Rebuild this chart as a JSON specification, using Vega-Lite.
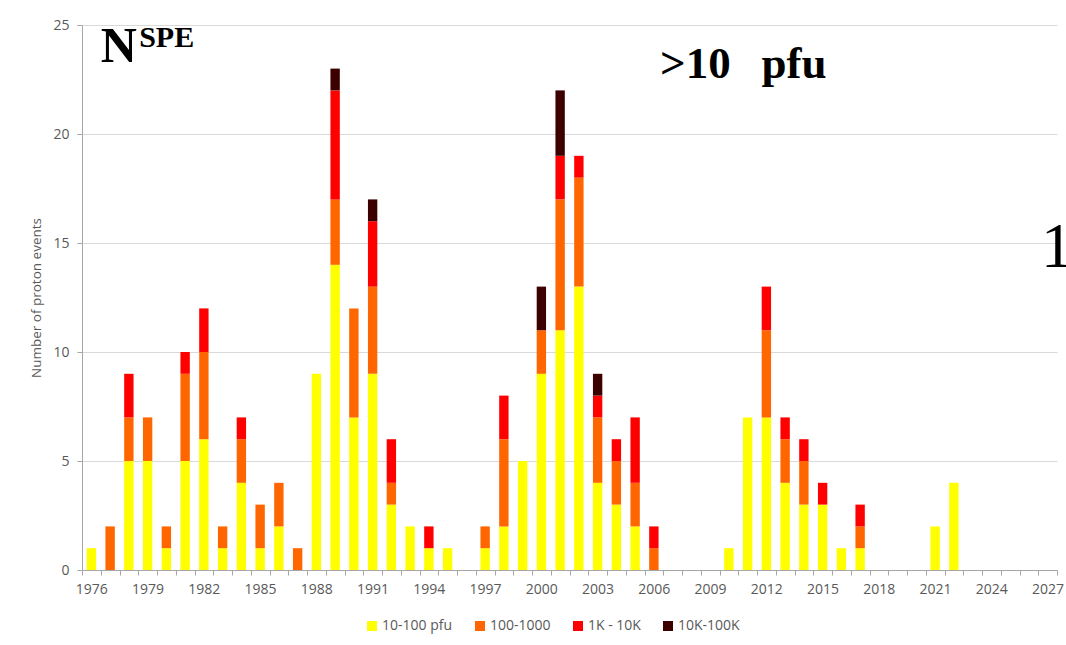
{
  "$schema": "https://vega.github.io/schema/vega-lite/v6.json",
  "autosize": "none",
  "width": 975,
  "height": 545,
  "padding": {"left": 82, "top": 25, "right": 9, "bottom": 75},
  "background": "white",
  "config": {
    "view": {"stroke": null},
    "axis": {
      "labelFont": "Open Sans", "labelFontSize": 14, "labelColor": "#595959",
      "domainColor": "#a6a6a6", "tickColor": "#a6a6a6", "gridColor": "#d9d9d9",
      "titleFont": "Open Sans", "titleFontSize": 13.5, "titleFontWeight": "normal", "titleColor": "#595959"
    },
    "legend": {
      "labelFont": "Open Sans", "labelFontSize": 14, "labelColor": "#595959"
    }
  },
  "datasets": {
    "classes": [
      {"cls": "10-100 pfu", "rank": 1},
      {"cls": "100-1000", "rank": 2},
      {"cls": "1K - 10K", "rank": 3},
      {"cls": "10K-100K", "rank": 4}
    ]
  },
  "layer": [
    {
      "data": {
        "values": [
          {"year": 1976, "cls": "10-100 pfu", "n": 1},
          {"year": 1977, "cls": "100-1000", "n": 2},
          {"year": 1978, "cls": "10-100 pfu", "n": 5}, {"year": 1978, "cls": "100-1000", "n": 2}, {"year": 1978, "cls": "1K - 10K", "n": 2},
          {"year": 1979, "cls": "10-100 pfu", "n": 5}, {"year": 1979, "cls": "100-1000", "n": 2},
          {"year": 1980, "cls": "10-100 pfu", "n": 1}, {"year": 1980, "cls": "100-1000", "n": 1},
          {"year": 1981, "cls": "10-100 pfu", "n": 5}, {"year": 1981, "cls": "100-1000", "n": 4}, {"year": 1981, "cls": "1K - 10K", "n": 1},
          {"year": 1982, "cls": "10-100 pfu", "n": 6}, {"year": 1982, "cls": "100-1000", "n": 4}, {"year": 1982, "cls": "1K - 10K", "n": 2},
          {"year": 1983, "cls": "10-100 pfu", "n": 1}, {"year": 1983, "cls": "100-1000", "n": 1},
          {"year": 1984, "cls": "10-100 pfu", "n": 4}, {"year": 1984, "cls": "100-1000", "n": 2}, {"year": 1984, "cls": "1K - 10K", "n": 1},
          {"year": 1985, "cls": "10-100 pfu", "n": 1}, {"year": 1985, "cls": "100-1000", "n": 2},
          {"year": 1986, "cls": "10-100 pfu", "n": 2}, {"year": 1986, "cls": "100-1000", "n": 2},
          {"year": 1987, "cls": "100-1000", "n": 1},
          {"year": 1988, "cls": "10-100 pfu", "n": 9},
          {"year": 1989, "cls": "10-100 pfu", "n": 14}, {"year": 1989, "cls": "100-1000", "n": 3}, {"year": 1989, "cls": "1K - 10K", "n": 5}, {"year": 1989, "cls": "10K-100K", "n": 1},
          {"year": 1990, "cls": "10-100 pfu", "n": 7}, {"year": 1990, "cls": "100-1000", "n": 5},
          {"year": 1991, "cls": "10-100 pfu", "n": 9}, {"year": 1991, "cls": "100-1000", "n": 4}, {"year": 1991, "cls": "1K - 10K", "n": 3}, {"year": 1991, "cls": "10K-100K", "n": 1},
          {"year": 1992, "cls": "10-100 pfu", "n": 3}, {"year": 1992, "cls": "100-1000", "n": 1}, {"year": 1992, "cls": "1K - 10K", "n": 2},
          {"year": 1993, "cls": "10-100 pfu", "n": 2},
          {"year": 1994, "cls": "10-100 pfu", "n": 1}, {"year": 1994, "cls": "1K - 10K", "n": 1},
          {"year": 1995, "cls": "10-100 pfu", "n": 1},
          {"year": 1997, "cls": "10-100 pfu", "n": 1}, {"year": 1997, "cls": "100-1000", "n": 1},
          {"year": 1998, "cls": "10-100 pfu", "n": 2}, {"year": 1998, "cls": "100-1000", "n": 4}, {"year": 1998, "cls": "1K - 10K", "n": 2},
          {"year": 1999, "cls": "10-100 pfu", "n": 5},
          {"year": 2000, "cls": "10-100 pfu", "n": 9}, {"year": 2000, "cls": "100-1000", "n": 2}, {"year": 2000, "cls": "10K-100K", "n": 2},
          {"year": 2001, "cls": "10-100 pfu", "n": 11}, {"year": 2001, "cls": "100-1000", "n": 6}, {"year": 2001, "cls": "1K - 10K", "n": 2}, {"year": 2001, "cls": "10K-100K", "n": 3},
          {"year": 2002, "cls": "10-100 pfu", "n": 13}, {"year": 2002, "cls": "100-1000", "n": 5}, {"year": 2002, "cls": "1K - 10K", "n": 1},
          {"year": 2003, "cls": "10-100 pfu", "n": 4}, {"year": 2003, "cls": "100-1000", "n": 3}, {"year": 2003, "cls": "1K - 10K", "n": 1}, {"year": 2003, "cls": "10K-100K", "n": 1},
          {"year": 2004, "cls": "10-100 pfu", "n": 3}, {"year": 2004, "cls": "100-1000", "n": 2}, {"year": 2004, "cls": "1K - 10K", "n": 1},
          {"year": 2005, "cls": "10-100 pfu", "n": 2}, {"year": 2005, "cls": "100-1000", "n": 2}, {"year": 2005, "cls": "1K - 10K", "n": 3},
          {"year": 2006, "cls": "100-1000", "n": 1}, {"year": 2006, "cls": "1K - 10K", "n": 1},
          {"year": 2010, "cls": "10-100 pfu", "n": 1},
          {"year": 2011, "cls": "10-100 pfu", "n": 7},
          {"year": 2012, "cls": "10-100 pfu", "n": 7}, {"year": 2012, "cls": "100-1000", "n": 4}, {"year": 2012, "cls": "1K - 10K", "n": 2},
          {"year": 2013, "cls": "10-100 pfu", "n": 4}, {"year": 2013, "cls": "100-1000", "n": 2}, {"year": 2013, "cls": "1K - 10K", "n": 1},
          {"year": 2014, "cls": "10-100 pfu", "n": 3}, {"year": 2014, "cls": "100-1000", "n": 2}, {"year": 2014, "cls": "1K - 10K", "n": 1},
          {"year": 2015, "cls": "10-100 pfu", "n": 3}, {"year": 2015, "cls": "1K - 10K", "n": 1},
          {"year": 2016, "cls": "10-100 pfu", "n": 1},
          {"year": 2017, "cls": "10-100 pfu", "n": 1}, {"year": 2017, "cls": "100-1000", "n": 1}, {"year": 2017, "cls": "1K - 10K", "n": 1},
          {"year": 2021, "cls": "10-100 pfu", "n": 2},
          {"year": 2022, "cls": "10-100 pfu", "n": 4}
        ]
      },
      "transform": [
        {"lookup": "cls", "from": {"data": {"name": "classes"}, "key": "cls", "fields": ["rank"]}}
      ],
      "mark": {"type": "bar", "width": {"band": 0.5}},
      "encoding": {
        "x": {
          "field": "year", "type": "ordinal",
          "scale": {
            "domain": [1976,1977,1978,1979,1980,1981,1982,1983,1984,1985,1986,1987,1988,1989,1990,1991,1992,1993,1994,1995,1996,1997,1998,1999,2000,2001,2002,2003,2004,2005,2006,2007,2008,2009,2010,2011,2012,2013,2014,2015,2016,2017,2018,2019,2020,2021,2022,2023,2024,2025,2026,2027],
            "paddingInner": 0, "paddingOuter": 0
          },
          "axis": {
            "title": null, "labelAngle": 0, "tickBand": "extent", "tickSize": 5,
            "labelPadding": 7, "labelOverlap": false, "labelFlush": false,
            "labelExpr": "(datum.value - 1976) % 3 == 0 ? datum.value : ''"
          }
        },
        "y": {
          "field": "n", "type": "quantitative", "stack": "zero",
          "scale": {"domain": [0, 25], "nice": false},
          "axis": {"title": "Number of proton events", "values": [0, 5, 10, 15, 20, 25], "tickSize": 5, "labelPadding": 8, "titlePadding": 9}
        },
        "order": {"field": "rank", "type": "quantitative", "sort": "ascending"},
        "color": {
          "field": "cls", "type": "nominal",
          "sort": ["10-100 pfu", "100-1000", "1K - 10K", "10K-100K"],
          "scale": {"domain": ["10-100 pfu", "100-1000", "1K - 10K", "10K-100K"], "range": ["#ffff00", "#ff6600", "#ff0000", "#3d0000"]},
          "legend": {
            "title": null, "orient": "none", "legendX": 283, "legendY": 594, "direction": "horizontal",
            "symbolType": "square", "symbolSize": 100, "symbolStrokeWidth": 0, "columnPadding": 20, "labelOffset": 3
          }
        }
      }
    },
    {
      "data": {"values": [{}]},
      "mark": {"type": "text", "text": "N", "font": "Liberation Serif", "fontWeight": "bold", "fontSize": 50, "align": "left", "baseline": "alphabetic", "color": "black"},
      "encoding": {
        "x": {"datum": 1977, "type": "ordinal", "bandPosition": 0},
        "y": {"datum": 23.3, "type": "quantitative"}
      }
    },
    {
      "data": {"values": [{}]},
      "mark": {"type": "text", "text": "SPE", "font": "Liberation Serif", "fontWeight": "bold", "fontSize": 30, "align": "left", "baseline": "alphabetic", "color": "black"},
      "encoding": {
        "x": {"datum": 1979, "type": "ordinal", "bandPosition": 0.05},
        "y": {"datum": 24.0, "type": "quantitative"}
      }
    },
    {
      "data": {"values": [{}]},
      "mark": {"type": "text", "text": ">10", "font": "Liberation Serif", "fontWeight": "bold", "fontSize": 45, "align": "left", "baseline": "alphabetic", "color": "black"},
      "encoding": {
        "x": {"datum": 2006, "type": "ordinal", "bandPosition": 0.83},
        "y": {"datum": 22.57, "type": "quantitative"}
      }
    },
    {
      "data": {"values": [{}]},
      "mark": {"type": "text", "text": "pfu", "font": "Liberation Serif", "fontWeight": "bold", "fontSize": 45, "align": "left", "baseline": "alphabetic", "color": "black"},
      "encoding": {
        "x": {"datum": 2012, "type": "ordinal", "bandPosition": 0.24},
        "y": {"datum": 22.57, "type": "quantitative"}
      }
    },
    {
      "data": {"values": [{}]},
      "mark": {"type": "text", "text": "1", "font": "Liberation Serif", "fontSize": 64, "align": "left", "baseline": "alphabetic", "color": "black"},
      "encoding": {
        "x": {"datum": 2027, "type": "ordinal", "bandPosition": 0.15},
        "y": {"datum": 13.91, "type": "quantitative"}
      }
    }
  ]
}
